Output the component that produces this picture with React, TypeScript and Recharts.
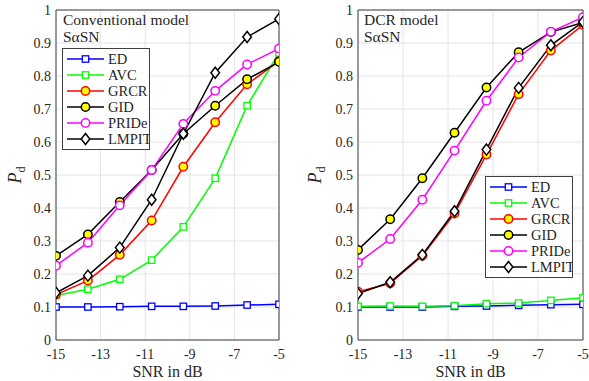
import { LineChart, Line, XAxis, YAxis, CartesianGrid, ReferenceLine, Legend, Label } from 'recharts';

const FONT = 'Liberation Serif, DejaVu Serif, serif';
const AXIS = '#404040';
const GRID = '#e4e4e4';

// SNR sample points (dB)
const snr = [-15, -13.57, -12.14, -10.71, -9.29, -7.86, -6.43, -5];
const xTicks = [-15, -13, -11, -9, -7, -5];
const yTicks = [0, 0.1, 0.2, 0.3, 0.4, 0.5, 0.6, 0.7, 0.8, 0.9, 1];

// Conventional model, SaSN
const convED = [0.1, 0.1, 0.101, 0.102, 0.102, 0.103, 0.106, 0.108];
const convAVC = [0.135, 0.154, 0.184, 0.242, 0.343, 0.49, 0.71, 0.87];
const convGRCR = [0.138, 0.18, 0.258, 0.362, 0.525, 0.66, 0.775, 0.845];
const convGID = [0.255, 0.32, 0.418, 0.515, 0.625, 0.71, 0.79, 0.843];
const convPRIDe = [0.225, 0.295, 0.408, 0.515, 0.655, 0.755, 0.835, 0.883];
const convLMPIT = [0.143, 0.195, 0.28, 0.425, 0.625, 0.81, 0.918, 0.973];

// DCR model, SaSN
const dcrED = [0.1, 0.1, 0.1, 0.102, 0.103, 0.105, 0.107, 0.108];
const dcrAVC = [0.102, 0.103, 0.102, 0.104, 0.11, 0.112, 0.12, 0.128];
const dcrGRCR = [0.146, 0.172, 0.255, 0.383, 0.562, 0.745, 0.877, 0.955];
const dcrGID = [0.273, 0.366, 0.49, 0.628, 0.765, 0.872, 0.933, 0.962];
const dcrPRIDe = [0.234, 0.306, 0.425, 0.574, 0.725, 0.856, 0.934, 0.978];
const dcrLMPIT = [0.141, 0.175, 0.258, 0.39, 0.577, 0.764, 0.893, 0.964];

const series = [
  { key: 'ED', color: '#0000ff', marker: 'square', fill: '#ffffff' },
  { key: 'AVC', color: '#00ff00', marker: 'square', fill: '#ffffff' },
  { key: 'GRCR', color: '#ff0000', marker: 'circle', fill: '#ffff00' },
  { key: 'GID', color: '#000000', marker: 'circle', fill: '#ffff00' },
  { key: 'PRIDe', color: '#ff00ff', marker: 'circle', fill: '#ffffff' },
  { key: 'LMPIT', color: '#000000', marker: 'diamond', fill: '#ffffff' },
];

const buildRows = (cols: Record<string, number[]>) =>
  snr.map((x, i) => {
    const row: Record<string, number> = { snr: x };
    Object.keys(cols).forEach((k) => (row[k] = cols[k][i]));
    return row;
  });

const convData = buildRows({ ED: convED, AVC: convAVC, GRCR: convGRCR, GID: convGID, PRIDe: convPRIDe, LMPIT: convLMPIT });
const dcrData = buildRows({ ED: dcrED, AVC: dcrAVC, GRCR: dcrGRCR, GID: dcrGID, PRIDe: dcrPRIDe, LMPIT: dcrLMPIT });

function Marker({ cx, cy, shape, stroke, fill }: any) {
  if (cx == null || cy == null) return null;
  if (shape === 'square') {
    return <rect x={cx - 3.2} y={cy - 3.2} width={6.4} height={6.4} fill={fill} stroke={stroke} strokeWidth={1.3} />;
  }
  if (shape === 'diamond') {
    return (
      <polygon
        points={`${cx},${cy - 5.5} ${cx + 4.3},${cy} ${cx},${cy + 5.5} ${cx - 4.3},${cy}`}
        fill={fill}
        stroke={stroke}
        strokeWidth={1.5}
      />
    );
  }
  return <circle cx={cx} cy={cy} r={4.2} fill={fill} stroke={stroke} strokeWidth={1.5} />;
}

function LegendBox() {
  const w = 88;
  const rowH = 16;
  const h = 102;
  return (
    <svg width={w} height={h} style={{ display: 'block' }}>
      <rect x={0.5} y={0.5} width={w - 1} height={h - 1} fill="#fff" stroke={AXIS} strokeWidth={1} />
      {series.map((s, i) => {
        const y = 11 + i * rowH;
        return (
          <g key={s.key}>
            <line x1={5} x2={42} y1={y} y2={y} stroke={s.color} strokeWidth={1.5} />
            <Marker cx={23.5} cy={y} shape={s.marker} stroke={s.color} fill={s.fill} />
            <text x={46} y={y + 5} fontFamily={FONT} fontSize={14.5} fill="#262626">
              {s.key}
            </text>
          </g>
        );
      })}
    </svg>
  );
}

function PdLabel({ viewBox }: any) {
  const x = 21;
  const y = viewBox.y + viewBox.height / 2;
  return (
    <text x={x} y={y} transform={`rotate(-90, ${x}, ${y})`} textAnchor="middle" fontFamily={FONT} fontSize={18} fill="#262626">
      <tspan fontStyle="italic">P</tspan>
      <tspan fontSize={12} dy={4}>d</tspan>
    </text>
  );
}

function Panel({ data, width, yAxisWidth, rightMargin, legendPos }: any) {
  const tickStyle = { fontFamily: FONT, fontSize: 14, fill: '#262626' };
  return (
    <LineChart width={width} height={381} data={data} margin={{ top: 10, right: rightMargin, left: 0, bottom: 5 }} style={{ fontFamily: FONT }}>
      <CartesianGrid stroke={GRID} strokeWidth={1} />
      <XAxis
        dataKey="snr"
        type="number"
        domain={[-15, -5]}
        ticks={xTicks}
        height={36}
        tickSize={0}
        tickMargin={9}
        stroke={AXIS}
        tick={tickStyle}
        allowDataOverflow
      >
        <Label value="SNR in dB" position="insideBottom" offset={-1} style={{ fontFamily: FONT, fontSize: 16, fill: '#262626' }} />
      </XAxis>
      <YAxis
        type="number"
        domain={[0, 1]}
        ticks={yTicks}
        width={yAxisWidth}
        tickSize={0}
        tickMargin={5}
        stroke={AXIS}
        tick={tickStyle}
        tickFormatter={(v: number) => (v === 0 ? '0' : v === 1 ? '1' : v.toFixed(1))}
        label={{ content: PdLabel }}
      />
      <ReferenceLine y={1} stroke={AXIS} strokeWidth={1} ifOverflow="visible" />
      <ReferenceLine x={-5} stroke={AXIS} strokeWidth={1} ifOverflow="visible" />
      {series.map((s) => (
        <Line
          key={s.key}
          type="linear"
          dataKey={s.key}
          name={s.key}
          stroke={s.color}
          strokeWidth={1.5}
          isAnimationActive={false}
          activeDot={false}
          dot={(p: any) => <Marker key={`${s.key}-${p.index}`} cx={p.cx} cy={p.cy} shape={s.marker} stroke={s.color} fill={s.fill} />}
        />
      ))}
      <Legend
        layout="horizontal"
        verticalAlign="middle"
        align="center"
        content={() => <LegendBox />}
        wrapperStyle={{ left: legendPos.left, top: legendPos.top, width: 88, height: 102 }}
      />
    </LineChart>
  );
}

export default function App() {
  const noteStyle = { fontFamily: FONT, fontSize: 15.5, fill: '#262626' };
  return (
    <div style={{ position: 'absolute', left: 0, top: 0, width: 589, height: 381, background: '#fff', overflow: 'hidden', fontFamily: FONT }}>
      <div style={{ position: 'absolute', left: 0, top: 0 }}>
        <Panel data={convData} width={290} yAxisWidth={56} rightMargin={11} legendPos={{ left: 62, top: 48 }} />
      </div>
      <div style={{ position: 'absolute', left: 300, top: 0 }}>
        <Panel data={dcrData} width={289} yAxisWidth={58} rightMargin={6} legendPos={{ left: 185, top: 176 }} />
      </div>
      <svg width={589} height={381} style={{ position: 'absolute', left: 0, top: 0, pointerEvents: 'none' }}>
        <text x={63} y={25} style={noteStyle}>Conventional model</text>
        <text x={63} y={42} style={noteStyle}>SαSN</text>
        <text x={364} y={25} style={noteStyle}>DCR model</text>
        <text x={364} y={42} style={noteStyle}>SαSN</text>
      </svg>
    </div>
  );
}
